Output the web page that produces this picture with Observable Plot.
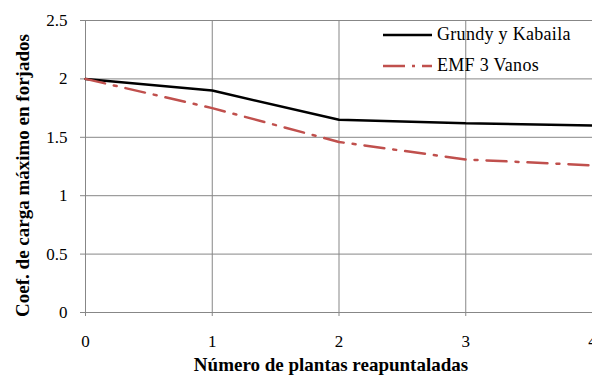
<!DOCTYPE html>
<html>
<head>
<meta charset="utf-8">
<script src="https://cdn.jsdelivr.net/npm/d3@7"></script>
<script src="https://cdn.jsdelivr.net/npm/@observablehq/plot@0.6"></script>
<style>
  body { margin: 0; background: #fff; }
  #chart { position: relative; width: 592px; height: 376px; font-family: "Liberation Serif", "DejaVu Serif"; }
  #chart svg text { font-family: "Liberation Serif", "DejaVu Serif"; }
  #legend { position: absolute; left: 383px; top: 19px; font-size: 18px; color: #000; font-family: "Liberation Serif", "DejaVu Serif"; }
  #legend .row { display: flex; align-items: center; height: 31px; }
  #legend svg { display: block; margin-right: 5px; }
</style>
</head>
<body>
<div id="chart"></div>
<script>
// Número de plantas reapuntaladas (eje x)
const plantas = [0, 1, 2, 3, 4];
// Coeficiente de carga máximo en forjados para cada método
const grundyKabaila = [2.0, 1.90, 1.65, 1.62, 1.60];
const emf3Vanos = [2.0, 1.75, 1.46, 1.31, 1.26];

const seriesNames = ["Grundy y Kabaila", "EMF 3 Vanos"];
const seriesColors = ["#000000", "#c0504d"];
const seriesDash = [null, "20,9,3,9"];

const xTicks = [0, 1, 2, 3, 4];
const yTicks = [0, 0.5, 1, 1.5, 2, 2.5];
const xTitle = "Número de plantas reapuntaladas";
const yTitle = "Coef. de carga máximo en forjados";

const gridColor = "#878787";
const serif = "'Liberation Serif', 'DejaVu Serif'";

const seriesValues = [grundyKabaila, emf3Vanos];
const rows = seriesNames.flatMap((name, s) =>
  plantas.map((p, i) => ({plantas: p, coef: seriesValues[s][i], serie: name}))
);

const lineMarks = seriesNames.map((name, s) =>
  Plot.line(rows.filter(d => d.serie === name), {
    x: "plantas",
    y: "coef",
    stroke: seriesColors[s],
    strokeWidth: 2.5,
    strokeDasharray: seriesDash[s],
    strokeLinejoin: "miter"
  })
);

const chart = Plot.plot({
  width: 592,
  height: 376,
  marginLeft: 85,
  marginRight: 0,
  marginTop: 20,
  marginBottom: 64,
  style: {fontFamily: serif, fontSize: "17px", color: "#000", background: "#fff", overflow: "visible"},
  x: {domain: [0, 4]},
  y: {domain: [0, 2.5]},
  marks: [
    Plot.gridX(xTicks, {stroke: gridColor, strokeOpacity: 1, strokeWidth: 1}),
    Plot.gridY(yTicks, {stroke: gridColor, strokeOpacity: 1, strokeWidth: 1}),
    Plot.axisX(xTicks, {
      tickSize: 4, tickPadding: 18, stroke: gridColor, fill: "#000",
      tickFormat: d => String(d), label: null, fontSize: 17
    }),
    Plot.axisY(yTicks, {
      tickSize: 5, tickPadding: 13, stroke: gridColor, fill: "#000",
      tickFormat: d => String(d), label: null, fontSize: 17
    }),
    ...lineMarks,
    Plot.text([xTitle], {
      frameAnchor: "bottom", lineAnchor: "bottom", textAnchor: "middle", dy: 58, dx: -8,
      fontSize: 19, fontWeight: "bold", fill: "#000"
    }),
    Plot.text([yTitle], {
      frameAnchor: "left", rotate: -90, lineAnchor: "middle", textAnchor: "middle", dx: -63, dy: 9,
      fontSize: 19, fontWeight: "bold", fill: "#000"
    })
  ]
});

const container = document.getElementById("chart");
container.appendChild(chart);

// Leyenda dentro del área de trazado, arriba a la derecha
const legend = document.createElement("div");
legend.id = "legend";
seriesNames.forEach((name, s) => {
  const row = document.createElement("div");
  row.className = "row";
  const sw = d3.create("svg").attr("width", 49).attr("height", 6);
  sw.append("line")
    .attr("x1", 0).attr("x2", 49).attr("y1", 3).attr("y2", 3)
    .attr("stroke", seriesColors[s]).attr("stroke-width", 2.5)
    .attr("stroke-dasharray", seriesDash[s] ? "22,7,3,7" : null);
  row.appendChild(sw.node());
  const label = document.createElement("span");
  label.textContent = name;
  label.style.letterSpacing = "0.3px";
  row.appendChild(label);
  legend.appendChild(row);
});
container.appendChild(legend);
</script>
</body>
</html>
